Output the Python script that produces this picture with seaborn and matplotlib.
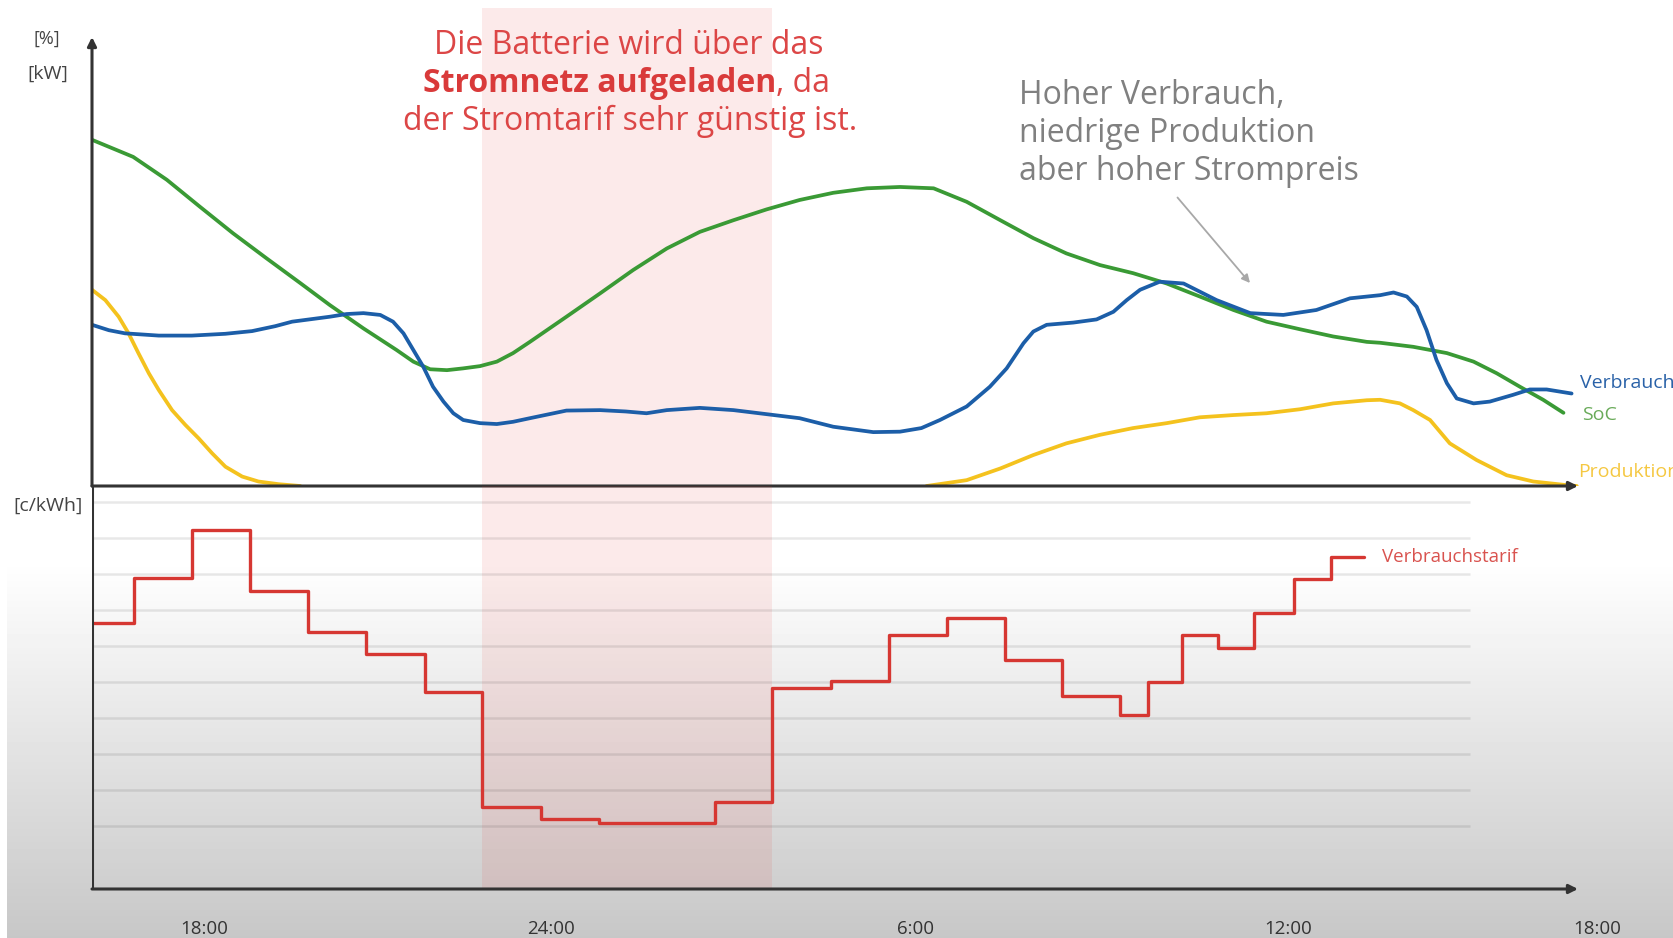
import numpy as np
import matplotlib
matplotlib.use("Agg")
import matplotlib.pyplot as plt
import seaborn as sns

# x = Stunden ab linkem Diagrammrand (ca. 16:00)
tarif_t = [0, 0.72, 1.73, 2.73, 3.73, 4.73, 5.74, 6.73, 7.74, 8.74, 9.74, 10.74, 11.73,
           12.74, 13.74, 14.74, 15.74, 16.72, 17.73, 18.21, 18.80, 19.41, 20.04, 20.73,
           21.36, 21.93]
tarif_ct = [5.63, 6.88, 8.22, 6.53, 5.38, 4.78, 3.72, 0.52, 0.19, 0.08, 0.09, 0.68, 3.82,
            4.03, 5.31, 5.79, 4.61, 3.62, 3.08, 4.01, 5.31, 4.94, 5.91, 6.86, 7.46, 7.46]

soc_t = [0, 0.71, 1.29, 1.86, 2.43, 3.01, 3.59, 4.10, 4.68, 5.25, 5.54, 5.83, 6.12, 6.40,
         6.69, 6.98, 7.26, 7.55, 8.18, 8.76, 9.33, 9.91, 10.48, 11.06, 11.63, 12.2, 12.78,
         13.36, 13.93, 14.51, 15.08, 15.66, 16.23, 16.8, 17.38, 17.95, 18.53, 19.1, 19.68,
         20.25, 20.83, 21.4, 21.98, 22.21, 22.78, 23.36, 23.82, 24.22, 24.62, 25.02, 25.37]
soc_val = [77.1, 73.3, 68.2, 62.2, 56.3, 50.7, 45.2, 40.3, 35.1, 30.3, 27.7, 26.0, 25.8, 26.2,
           26.7, 27.7, 29.6, 32.1, 37.7, 42.9, 48.1, 52.9, 56.6, 59.2, 61.6, 63.7, 65.3,
           66.3, 66.6, 66.3, 63.3, 59.2, 55.2, 51.8, 49.2, 47.4, 45.1, 42.2, 39.2,
           36.6, 34.9, 33.3, 32.1, 31.9, 31.0, 29.6, 27.7, 25.1, 22.1, 19.2, 16.3]

verbrauch_t = [0, 0.29, 0.57, 1.15, 1.72, 2.30, 2.76, 3.16, 3.45, 4.10, 4.39, 4.68, 4.97,
               5.19, 5.37, 5.54, 5.71, 5.88, 6.06, 6.23, 6.40, 6.69, 6.98, 7.26, 7.55, 8.18,
               8.76, 9.2, 9.56, 9.91, 10.48, 11.06, 11.63, 12.2, 12.78, 13.47, 13.93, 14.3,
               14.62, 15.08, 15.48, 15.77, 16.06, 16.23, 16.46, 16.92, 17.32, 17.61, 17.84,
               18.07, 18.41, 18.82, 19.39, 19.97, 20.54, 21.11, 21.69, 22.21, 22.44, 22.67,
               22.84, 23.01, 23.18, 23.36, 23.53, 23.82, 24.1, 24.5, 24.79, 25.08, 25.51]
verbrauch_val = [35.9, 34.7, 34.0, 33.5, 33.5, 33.9, 34.5, 35.6, 36.6, 37.7, 38.3, 38.5, 38.1,
                 36.6, 34.0, 30.3, 26.6, 22.1, 18.8, 16.2, 14.7, 14.0, 13.8, 14.3, 15.1, 16.8,
                 16.9, 16.6, 16.2, 16.9, 17.4, 16.9, 16.0, 15.1, 13.2, 12.0, 12.1, 12.9,
                 14.7, 17.7, 22.1, 26.2, 31.8, 34.4, 35.9, 36.4, 37.1, 38.8, 41.4,
                 43.7, 45.5, 45.1, 41.4, 38.5, 38.1, 39.2, 41.8, 42.5, 43.1, 42.2,
                 39.9, 34.7, 28.1, 22.9, 19.5, 18.4, 18.8, 20.3, 21.5, 21.5, 20.6]

prod_abend_t = [0, 0.23, 0.46, 0.63, 0.80, 0.98, 1.15, 1.38, 1.61, 1.84, 2.07, 2.30, 2.59,
                2.87, 3.22, 3.59]
prod_abend_val = [43.7, 41.4, 37.7, 34.0, 29.6, 25.1, 21.4, 16.9, 13.6, 10.6, 7.3, 4.3, 2.1,
                  1.0, 0.4, 0.0]
prod_tag_t = [14.39, 15.08, 15.66, 16.23, 16.8, 17.38, 17.95, 18.53, 19.1, 19.68, 20.25, 20.83,
              21.4, 21.98, 22.21, 22.55, 22.78, 23.07, 23.41, 23.87, 24.39, 24.85, 25.42, 25.6]
prod_tag_val = [0.0, 1.3, 3.9, 6.9, 9.5, 11.4, 12.9, 14.0, 15.3, 15.8, 16.2, 17.1,
                18.4, 19.1, 19.2, 18.4, 16.9, 14.7, 9.5, 5.8, 2.4, 1.0, 0.2, 0.0]

tick_pos = [1.93, 7.91, 14.19, 20.62, 25.95]
tick_labels = ["18:00", "24:00", "6:00", "12:00", "18:00"]
laden_von, laden_bis = 6.73, 11.73

c_blue = "#1c5ea8"
c_green = "#3a9a35"
c_yellow = "#f4c21e"
c_red = "#d63732"
c_axis = "#333333"

sns.set_theme(style="white")
plt.rcParams["font.family"] = ["Open Sans", "DejaVu Sans"]

W, H = 1674, 938
fig = plt.figure(figsize=(W / 100, H / 100), dpi=100)


def fx(px):
    return px / W


def fy(py):
    return 1 - py / H


# grauer Verlauf im Hintergrund
bg = fig.add_axes([0, 0, 1, 1], zorder=-5)
rows = np.arange(H)
shade = np.where(rows < 560, 1.0, 1.0 - (rows - 560) / (H - 560) * 0.22)
grad = np.tile(shade[:, None], (1, W))
grad[:, :7] = 1.0
bg.imshow(grad, cmap="gray", vmin=0, vmax=1, aspect="auto", extent=[0, W, H, 0])
bg.set_axis_off()

xmax = (W - 92) / 58
x_end = (1578 - 92) / 58

# oberes Diagramm: Leistung / SoC
ax1 = fig.add_axes([fx(92), fy(486), fx(W - 92), (486 - 8.5) / H])
ax1.set_facecolor("none")
ax1.set_xlim(0, xmax)
ax1.set_ylim(0, (486 - 8.5) / 4.49)
ax1.axvspan(laden_von, laden_bis, color="#e53935", alpha=0.1, lw=0)

line_kw = dict(lw=2.7, solid_capstyle="round", solid_joinstyle="round", legend=False)
sns.lineplot(x=prod_abend_t, y=prod_abend_val, color=c_yellow, ax=ax1, **line_kw)
sns.lineplot(x=prod_tag_t, y=prod_tag_val, color=c_yellow, ax=ax1, **line_kw)
sns.lineplot(x=soc_t, y=soc_val, color=c_green, ax=ax1, **line_kw)
sns.lineplot(x=verbrauch_t, y=verbrauch_val, color=c_blue, ax=ax1, **line_kw)

arrow = dict(arrowstyle="-|>", color=c_axis, lw=2.2, mutation_scale=13, shrinkA=0, shrinkB=0)
ax1.annotate("", xy=(x_end, 0), xytext=(0, 0), arrowprops=arrow, zorder=5)
ax1.annotate("", xy=(0, 100), xytext=(0, 0), arrowprops=arrow, zorder=5)
ax1.set_axis_off()

# unteres Diagramm: Tarif
ax2 = fig.add_axes([fx(92), fy(889), fx(W - 92), (889 - 486) / H])
ax2.set_facecolor("none")
ax2.set_xlim(0, xmax)
ax2.set_ylim(-1.75, (826 - 486) / 36)
ax2.axvspan(laden_von, laden_bis, color="#e53935", alpha=0.1, lw=0)
ax2.hlines(range(10), 0, (1470 - 92) / 58, color="black", alpha=0.09, lw=1.8)
sns.lineplot(x=tarif_t, y=tarif_ct, drawstyle="steps-post", color=c_red, lw=2.4,
             legend=False, ax=ax2)
ax2.axvline(0, color=c_axis, lw=2.2, zorder=5)
ax2.annotate("", xy=(x_end, -1.75), xytext=(0, -1.75), arrowprops=arrow, zorder=5)
ax2.set_axis_off()

for pos, lab in zip(tick_pos, tick_labels):
    ax2.text(pos, (889 - 934) / 403, lab, transform=ax2.get_xaxis_transform(),
             ha="center", va="baseline", fontsize=13.5, color="#333333")

# Achsenbeschriftungen
fig.text(fx(47), fy(39), "[%]", ha="center", va="center", fontsize=13, color="#444444")
fig.text(fx(48), fy(74), "[kW]", ha="center", va="center", fontsize=14, color="#444444")
fig.text(fx(48), fy(506), "[c/kWh]", ha="center", va="center", fontsize=14, color="#444444")

# Serienlabels
fig.text(fx(1580), fy(383), "Verbrauch", ha="left", va="center", fontsize=14, color="#2a62a8")
fig.text(fx(1582), fy(415), "SoC", ha="left", va="center", fontsize=14, color="#6aab5a")
fig.text(fx(1578), fy(472), "Produktion", ha="left", va="center", fontsize=14, color="#f5c842")
fig.text(fx(1382), fy(557), "Verbrauchstarif", ha="left", va="center", fontsize=13.5,
         color="#d9534f")

# rote Erklärung
red_txt = "#dc4646"
fig.text(fx(629), fy(53.5), "Die Batterie wird über das", ha="center", va="baseline",
         fontsize=23, color=red_txt)
fig.text(fx(776), fy(92), "Stromnetz aufgeladen", ha="right", va="baseline",
         fontsize=23, fontweight="bold", color="#d93a3a")
fig.text(fx(776), fy(92), ", da", ha="left", va="baseline", fontsize=23, color=red_txt)
fig.text(fx(630), fy(130), "der Stromtarif sehr günstig ist.", ha="center", va="baseline",
         fontsize=23, color=red_txt)

# graue Erklärung
for py, s in zip([104, 141.5, 180],
                 ["Hoher Verbrauch,", "niedrige Produktion", "aber hoher Strompreis"]):
    fig.text(fx(1019), fy(py), s, ha="left", va="baseline", fontsize=23, color="#808080")

ax1.annotate("", xy=(1250, H - 283), xycoords="figure pixels",
             xytext=(1177.5, H - 197.5), textcoords="figure pixels",
             arrowprops=dict(arrowstyle="-|>", color="#a8a8a8", lw=1.3,
                             mutation_scale=12, shrinkA=0, shrinkB=0))

fig.savefig("out.png", dpi=100)
